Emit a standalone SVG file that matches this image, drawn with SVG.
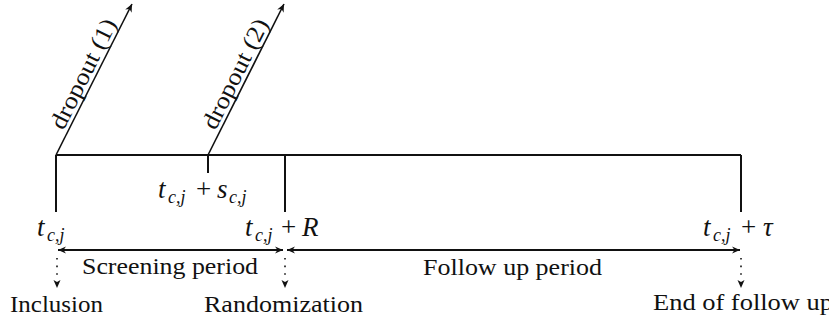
<svg xmlns="http://www.w3.org/2000/svg" width="829" height="322" viewBox="0 0 829 322">
<style>
.ln{stroke:#111;stroke-width:2;fill:none}
.thin{stroke:#111;stroke-width:1.6;fill:none}
.dot{stroke:#111;stroke-width:1.6;fill:none;stroke-dasharray:1.6 6}
.t{font-family:'Liberation Serif','DejaVu Serif',serif;font-size:24px;fill:#111}
.m{font-family:'Liberation Serif','DejaVu Serif',serif;font-size:27px;fill:#111}
.i{font-style:italic}
.s{font-size:18px;font-style:italic}
</style>
<defs>
<marker id="ah" markerUnits="userSpaceOnUse" markerWidth="12" markerHeight="10" refX="0" refY="0" viewBox="-9 -5 10 10" orient="auto-start-reverse">
<path d="M0,0 L-8,-3.6 L-5.5,0 L-8,3.6 Z" fill="#111"/>
</marker>
</defs>
<rect width="829" height="322" fill="#fff"/>
<g id="timeline">
<line class="ln" x1="56" y1="155" x2="741" y2="155"/>
<line class="ln" x1="56" y1="155" x2="56" y2="212"/>
<line class="ln" x1="208" y1="155" x2="208" y2="173"/>
<line class="ln" x1="285" y1="155" x2="285" y2="212"/>
<line class="ln" x1="741" y1="155" x2="741" y2="212"/>
</g>
<g id="connectors">
<line class="thin" x1="56" y1="155" x2="132" y2="4" marker-end="url(#ah)"/>
<line class="thin" x1="208" y1="155" x2="284" y2="4" marker-end="url(#ah)"/>
<line class="ln" x1="58" y1="250" x2="283" y2="250" marker-start="url(#ah)" marker-end="url(#ah)"/>
<line class="ln" x1="287" y1="250" x2="740" y2="250" marker-start="url(#ah)" marker-end="url(#ah)"/>
<line class="dot" x1="57" y1="258" x2="57" y2="280"/>
<path d="M57,288 L53.5,280 L57,282 L60.5,280 Z" fill="#111"/>
<line class="dot" x1="285" y1="258" x2="285" y2="280"/>
<path d="M285,288 L281.5,280 L285,282 L288.5,280 Z" fill="#111"/>
<line class="dot" x1="741" y1="258" x2="741" y2="280"/>
<path d="M741,288 L737.5,280 L741,282 L744.5,280 Z" fill="#111"/>
</g>
<g id="dropout1">
<text class="t" transform="translate(63.5,131) rotate(-63.43)" textLength="120" lengthAdjust="spacingAndGlyphs">dropout (1)</text>
</g>
<g id="dropout2">
<text class="t" transform="translate(215.5,131) rotate(-63.43)" textLength="120" lengthAdjust="spacingAndGlyphs">dropout (2)</text>
</g>
<g id="label-t">
<text class="m"><tspan class="i" x="37" y="236">t</tspan><tspan class="s" x="47" y="241">c,j</tspan></text>
</g>
<g id="label-ts">
<text class="m"><tspan class="i" x="158" y="198">t</tspan><tspan class="s" x="168" y="203">c,j</tspan><tspan x="196" y="198">+</tspan><tspan class="i" x="217" y="198">s</tspan><tspan class="s" x="229" y="203">c,j</tspan></text>
</g>
<g id="label-tR">
<text class="m"><tspan class="i" x="245" y="236">t</tspan><tspan class="s" x="255" y="241">c,j</tspan><tspan x="281" y="236">+</tspan><tspan class="i" x="302" y="236">R</tspan></text>
</g>
<g id="label-ttau">
<text class="m"><tspan class="i" x="703" y="236">t</tspan><tspan class="s" x="713" y="241">c,j</tspan><tspan x="741" y="236">+</tspan><tspan class="i" x="763" y="236">τ</tspan></text>
</g>
<g id="screening">
<text class="t" x="82" y="274" textLength="176" lengthAdjust="spacingAndGlyphs">Screening period</text>
</g>
<g id="followup">
<text class="t" x="423" y="275" textLength="179" lengthAdjust="spacingAndGlyphs">Follow up period</text>
</g>
<g id="inclusion">
<text class="t" x="10" y="312" textLength="93" lengthAdjust="spacingAndGlyphs">Inclusion</text>
</g>
<g id="randomization">
<text class="t" x="204" y="312" textLength="159" lengthAdjust="spacingAndGlyphs">Randomization</text>
</g>
<g id="end">
<text class="t" x="653" y="310" textLength="180" lengthAdjust="spacingAndGlyphs">End of follow up</text>
</g>
</svg>
